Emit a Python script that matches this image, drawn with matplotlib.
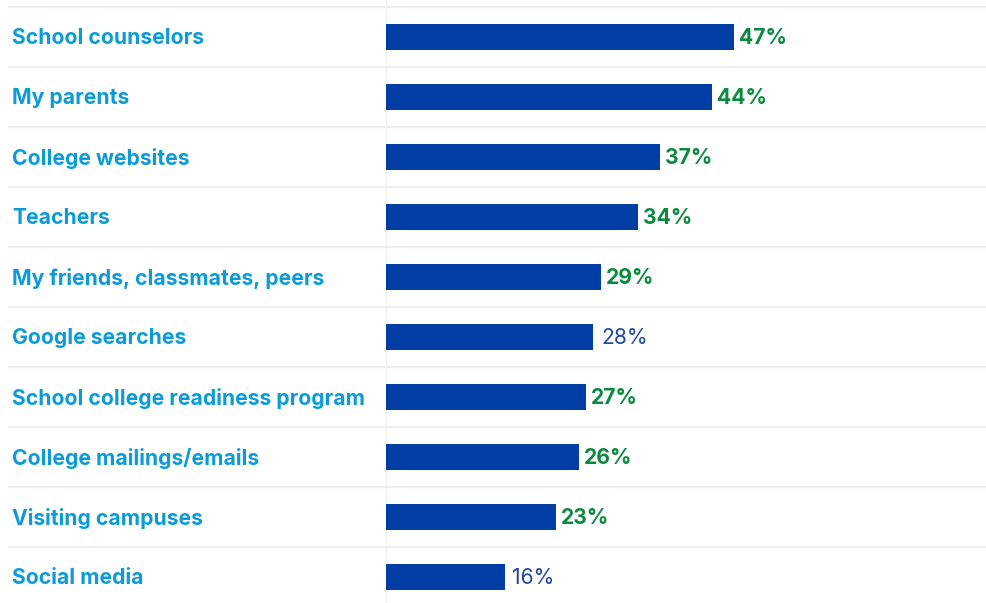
import numpy as np
import matplotlib
matplotlib.use("Agg")
import matplotlib.pyplot as plt

# data
labels = ["School counselors", "My parents", "College websites", "Teachers",
          "My friends, classmates, peers", "Google searches",
          "School college readiness program", "College mailings/emails",
          "Visiting campuses", "Social media"]
values = [47, 44, 37, 34, 29, 28, 27, 26, 23, 16]
highlight = [True, True, True, True, True, False, True, True, True, False]

bar_color = "#003DA5"
label_color = "#0B9BD8"
green = "#0A8A3E"
plain_blue = "#1F46A0"
sep_color = "#EEEEEE"

W, H = 987, 603
x0_px = 386          # bar baseline in pixels
px_per_pct = 7.41
row_px = 60
first_px = 37

fig = plt.figure(figsize=(W / 100, H / 100), dpi=100)
ax = fig.add_axes([0, 0, 1, 1])
ax.set_xlim(-x0_px / px_per_pct, (W - x0_px) / px_per_pct)
ax.set_ylim((H - first_px) / row_px, -first_px / row_px)
ax.axis("off")

y = np.arange(len(labels))

# row separators
x_left = (8 - x0_px) / px_per_pct
for i in range(len(labels)):
    ax.plot([x_left, ax.get_xlim()[1]], [i - 0.5, i - 0.5], color=sep_color,
            lw=1.6, zorder=0, solid_capstyle="butt")
ax.axvline(0, color="#F0F0F0", lw=1, zorder=0)

ax.barh(y, values, height=26 / row_px, color=bar_color, zorder=2)

label_x = (12 - x0_px) / px_per_pct
dy = 1.5 / row_px
for yi, lab, v, hl in zip(y, labels, values, highlight):
    ax.text(label_x, yi + dy, lab, ha="left", va="center", fontsize=15.2,
            fontweight="bold", family="Inter", color=label_color)
    if hl:
        ax.annotate(f"{v}%", (v, yi + dy), xytext=(3.5, 0), textcoords="offset points",
                    ha="left", va="center", fontsize=15.2, fontweight="bold",
                    family="Inter", color=green)
    else:
        ax.annotate(f"{v}%", (v, yi + dy), xytext=(5.5, 0), textcoords="offset points",
                    ha="left", va="center", fontsize=15.2,
                    family="Inter", color=plain_blue)

fig.savefig("out.png", dpi=100, facecolor="white")
